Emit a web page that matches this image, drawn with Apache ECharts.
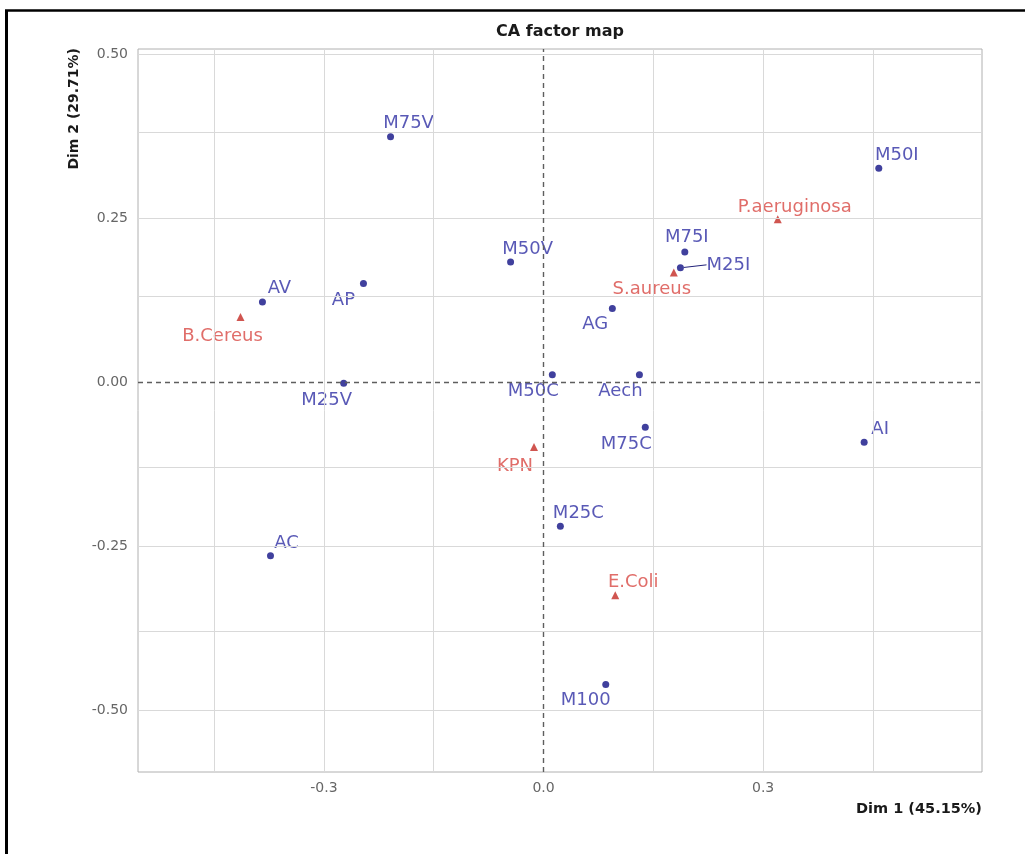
<!DOCTYPE html>
<html>
<head>
<meta charset="utf-8">
<title>CA factor map</title>
<script src="https://cdn.jsdelivr.net/npm/echarts@6/dist/echarts.min.js"></script>
<style>
  html, body { margin: 0; padding: 0; background: #fff; }
  #chart { width: 1025px; height: 854px; }
</style>
</head>
<body>
<div id="chart"></div>
<script>
// row points (blue) and column points (red) of the CA
const rowNames = ['M75V', 'M50V', 'AP', 'AV', 'M25V', 'M50C', 'AC', 'M75I', 'M25I', 'AG', 'Aech', 'M75C', 'AI', 'M25C', 'M100', 'M50I'];
const rowDim1 = [-0.209, -0.045, -0.246, -0.384, -0.273, 0.012, -0.373, 0.193, 0.187, 0.094, 0.131, 0.139, 0.438, 0.023, 0.085, 0.458];
const rowDim2 = [0.374, 0.183, 0.150, 0.122, -0.002, 0.011, -0.265, 0.198, 0.174, 0.112, 0.011, -0.069, -0.092, -0.220, -0.461, 0.326];

const colNames = ['B.Cereus', 'KPN', 'S.aureus', 'E.Coli', 'P.aeruginosa'];
const colDim1 = [-0.414, -0.013, 0.178, 0.098, 0.320];
const colDim2 = [0.099, -0.099, 0.167, -0.325, 0.248];

// axis ticks and grid lines
const xTicks = [-0.3, 0, 0.3];
const xGrid = [-0.45, -0.3, -0.15, 0.15, 0.3, 0.45];
const yTicks = [-0.5, -0.25, 0, 0.25, 0.5];
const yGrid = [-0.5, -0.375, -0.25, -0.125, 0.125, 0.25, 0.375, 0.5];

// label offsets (repel-style), in pixels from the point
const rowLabelOffset = [[18, -13], [17, -13], [-20, 17], [17, -14], [-17, 17], [-19, 17], [16, -13], [2, -15],
  [48, -3], [-17, 16], [-19, 17], [-19, 17], [16, -13], [18, -13], [-20, 16], [18, -13]];
const colLabelOffset = [[-18, 19], [-19, 19], [-22, 17], [18, -13], [17, -12]];

const FONT = 'DejaVu Sans';

const chart = echarts.init(document.getElementById('chart'));

const rowData = rowNames.map((n, i) => {
    const item = { name: n, value: [rowDim1[i], rowDim2[i]] };
    if (n === 'M25I') {
        item.labelLine = { show: true, lineStyle: { color: '#22227a', width: 1 } };
    }
    return item;
});
const colData = colNames.map((n, i) => ({ name: n, value: [colDim1[i], colDim2[i]] }));

const option = {
    animation: false,
    backgroundColor: '#fff',
    grid: {
        left: 138, right: 43, top: 49, bottom: 82,
        show: true, borderColor: '#b0b0b0', borderWidth: 1, backgroundColor: '#fff'
    },
    xAxis: {
        type: 'value', min: -0.554, max: 0.599,
        axisLine: { show: false },
        splitLine: { show: false },
        axisTick: { show: true, customValues: xTicks, length: 4, lineStyle: { color: '#9a9a9a' } },
        axisLabel: {
            customValues: xTicks, margin: 9, color: '#666', fontFamily: FONT, fontSize: 14,
            formatter: v => v.toFixed(1)
        }
    },
    yAxis: {
        type: 'value', min: -0.5945, max: 0.5076,
        axisLine: { show: false },
        splitLine: { show: false },
        axisTick: { show: true, customValues: yTicks, length: 4, lineStyle: { color: '#9a9a9a' } },
        axisLabel: {
            customValues: yTicks, margin: 10, color: '#666', fontFamily: FONT, fontSize: 14,
            formatter: v => v.toFixed(2)
        }
    },
    graphic: [
        { type: 'line', shape: { x1: 6.5, y1: 10.5, x2: 6.5, y2: 854 }, style: { stroke: '#000', lineWidth: 3 } },
        { type: 'line', shape: { x1: 5, y1: 10.5, x2: 1025, y2: 10.5 }, style: { stroke: '#000', lineWidth: 2.5 } },
        {
            type: 'text', x: 560, y: 32,
            style: { text: 'CA factor map', fontFamily: FONT, fontSize: 16, fontWeight: 'bold', fill: '#1a1a1a', align: 'center', verticalAlign: 'middle' }
        },
        {
            type: 'text', x: 982, y: 809,
            style: { text: 'Dim 1 (45.15%)', fontFamily: FONT, fontSize: 14.5, fontWeight: 'bold', fill: '#1a1a1a', align: 'right', verticalAlign: 'middle' }
        },
        {
            type: 'text', x: 74.5, y: 48, rotation: Math.PI / 2,
            style: { text: 'Dim 2 (29.71%)', fontFamily: FONT, fontSize: 14, fontWeight: 'bold', fill: '#1a1a1a', align: 'right', verticalAlign: 'middle' }
        }
    ],
    series: [
        {
            // grid lines and dashed zero lines
            type: 'scatter', data: [], silent: true,
            markLine: {
                silent: true, symbol: 'none', animation: false,
                label: { show: false },
                lineStyle: { color: '#d9d9d9', width: 1, type: 'solid' },
                data: xGrid.map(v => ({ xAxis: v })).concat(yGrid.map(v => ({ yAxis: v })))
            }
        },
        {
            type: 'scatter', data: [], silent: true,
            markLine: {
                silent: true, symbol: 'none', animation: false,
                label: { show: false },
                lineStyle: { color: '#5e5e5e', width: 1.4, type: [5, 4] },
                data: [{ xAxis: 0 }, { yAxis: 0 }]
            }
        },
        {
            name: 'rows', type: 'scatter', data: rowData,
            symbol: 'circle', symbolSize: 7,
            itemStyle: { color: '#101085' },
            label: {
                show: true, position: 'inside', formatter: '{b}',
                color: '#3030a4', fontFamily: FONT, fontSize: 18
            },
            labelLine: { show: false },
            labelLayout: p => ({ dx: rowLabelOffset[p.dataIndex][0], dy: rowLabelOffset[p.dataIndex][1] })
        },
        {
            name: 'cols', type: 'scatter', data: colData,
            symbol: 'triangle', symbolSize: 8,
            itemStyle: { color: '#c42a24' },
            label: {
                show: true, position: 'inside', formatter: '{b}',
                color: '#d84844', fontFamily: FONT, fontSize: 18
            },
            labelLine: { show: false },
            labelLayout: p => ({ dx: colLabelOffset[p.dataIndex][0], dy: colLabelOffset[p.dataIndex][1] })
        }
    ]
};

chart.setOption(option);
</script>
</body>
</html>
